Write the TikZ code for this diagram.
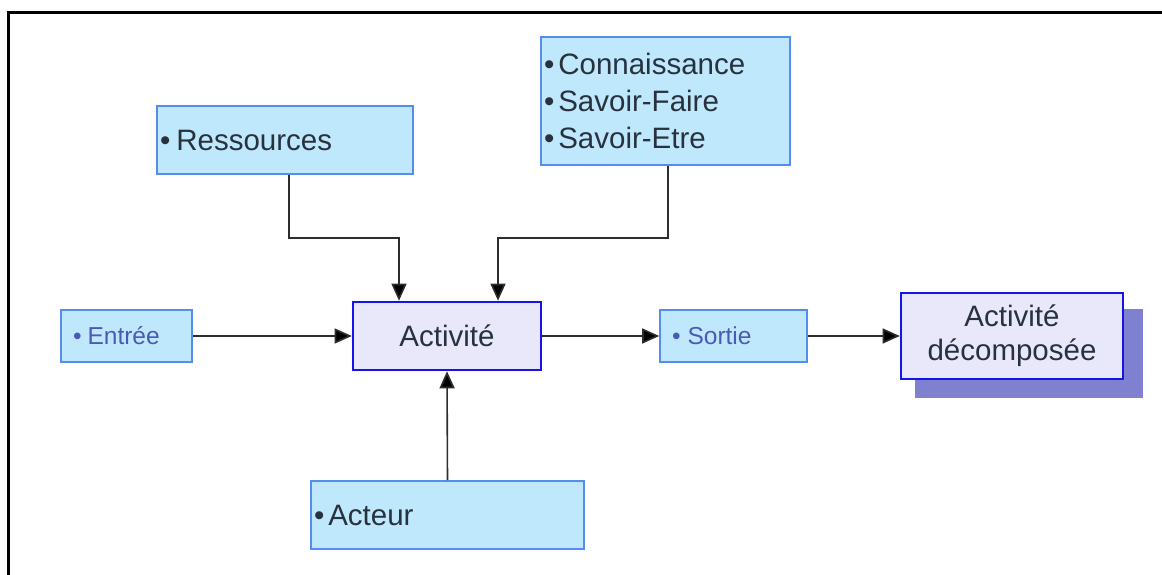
\documentclass[tikz,border=0pt]{standalone}
\usepackage{fontspec}
\setmainfont{Liberation Sans}
\usetikzlibrary{arrows.meta,calc,backgrounds}
\definecolor{boxfill}{RGB}{192,232,252}
\definecolor{boxline}{RGB}{85,140,240}
\definecolor{actfill}{RGB}{232,232,250}
\definecolor{actline}{RGB}{20,20,235}
\definecolor{shadowc}{RGB}{128,128,208}
\definecolor{txt}{RGB}{40,50,62}
\definecolor{btxt}{RGB}{75,90,180}
\definecolor{conncol}{RGB}{45,45,45}
\tikzset{
  infobox/.style={draw=boxline, fill=boxfill, line width=1.6pt, rectangle,
    inner xsep=3pt, inner ysep=0pt, align=left, text=txt,
    font=\fontsize{29.5}{37}\selectfont},
  smallbox/.style={infobox, inner xsep=12pt, text=btxt,
    font=\fontsize{24.5}{28}\selectfont},
  actbox/.style={draw=actline, fill=actfill, line width=2.6pt, rectangle,
    inner sep=0pt, align=center, text=txt,
    font=\fontsize{29.5}{34}\selectfont},
  conn/.style={draw=conncol, line width=1.6pt,
    -{Triangle[length=17pt,width=15pt,fill=black]}},
}
\begin{document}
\begin{tikzpicture}[x=1pt,y=-1pt]
\useasboundingbox (0,0) rectangle (1162,575);
\draw[line width=3pt, black] (8,575) -- (8,13) -- (1162,13);

% nodes
\node[infobox, minimum width=256pt, minimum height=68pt, text width=250pt]
  (res) at (285,140) {•\hspace{6pt}Ressources};
\node[infobox, minimum width=249pt, minimum height=128pt, text width=243pt]
  (kn) at (665.5,101) {•\hspace{4pt}Connaissance\\•\hspace{4pt}Savoir-Faire\\•\hspace{4pt}Savoir-Etre};
\node[smallbox, minimum width=131pt, minimum height=52pt, text width=107pt]
  (in) at (126.5,336) {•\hspace{6pt}Entrée};
\node[actbox, minimum width=188pt, minimum height=68pt]
  (act) at (447,336) {Activité};
\node[smallbox, minimum width=147pt, minimum height=52pt, text width=123pt]
  (out) at (733.5,336) {•\hspace{7pt}Sortie};
\node[actbox, minimum width=222pt, minimum height=86pt]
  (dec) at (1012,336) {Activité\\décomposée};
\node[infobox, minimum width=273pt, minimum height=68pt, text width=267pt]
  (act2) at (447.5,515) {•\hspace{4pt}Acteur};

\begin{scope}[on background layer]
  \fill[shadowc] ($(dec.north west)+(15,17)$) rectangle ($(dec.south east)+(19,18)$);
\end{scope}

% connectors
\draw[conn] ([xshift=4pt]res.south) -- ++(0,63) -| ($(act.north)+(-48,0)$);
\draw[conn] ([xshift=2.5pt]kn.south) -- ++(0,72) -| ($(act.north)+(51,0)$);
\draw[conn] (in.east) -- (act.west);
\draw[conn] (act.east) -- (out.west);
\draw[conn] (out.east) -- (dec.west);
\draw[conn] (act2.north) -- (act.south);
\end{tikzpicture}
\end{document}
